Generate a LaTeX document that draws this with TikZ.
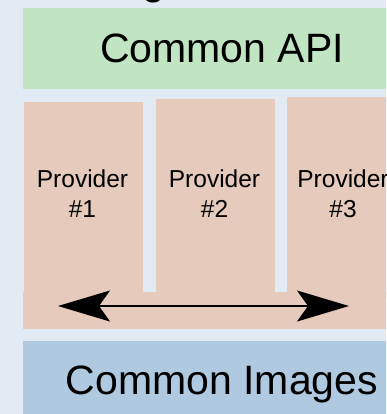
\documentclass[tikz,border=0pt]{standalone}
\usepackage{fontspec}
\setmainfont{Liberation Sans}
\usetikzlibrary{arrows.meta}

\definecolor{bgc}{RGB}{226,234,243}
\definecolor{apigreen}{RGB}{193,229,194}
\definecolor{provpink}{RGB}{230,202,188}
\definecolor{imgblue}{RGB}{175,201,224}

\tikzset{
  layer/.style={inner sep=0pt, outer sep=0pt, anchor=north west},
  provbox/.style={layer, fill=provpink, minimum width=119pt, minimum height=196pt},
  bigtext/.style={font=\fontsize{41}{41}\selectfont, inner sep=0pt},
  provtext/.style={font=\fontsize{24.5}{30}\selectfont, align=center, inner sep=0pt},
  bothway/.style={line width=2pt,
    {Stealth[length=52pt,width=31pt,inset=11pt]}-{Stealth[length=52pt,width=31pt,inset=11pt]}}
}

\begin{document}
\begin{tikzpicture}[x=1pt,y=-1pt]
\useasboundingbox (0,0) rectangle (386,414);
\clip (0,0) rectangle (386,414);
\fill[bgc] (0,0) rectangle (386,414);

% tail of the heading above the stack
\node[bigtext, anchor=base] (head) at (154,-5.5) {g};

% API layer
\node[layer, fill=apigreen, minimum width=398pt, minimum height=81pt,
      bigtext] (api) at (23,8) {Common API};

% providers sitting on a shared base strip
\node[layer, fill=provpink, minimum width=398pt, minimum height=37pt] (base) at (23,292) {};
\node[provbox, minimum height=192pt] (p1) at (24,102) {};
\node[provbox, minimum height=195pt] (p2) at (156,99) {};
\node[provbox, minimum width=130pt, minimum height=200pt] (p3) at (287,97) {};

% labels: anchor=base is the baseline of the second line
\node[provtext, anchor=base] (t1) at (82.5,217) {Provider\\\#1};
\node[provtext, anchor=base] (t2) at (214.5,217) {Provider\\\#2};
\node[provtext, anchor=base] (t3) at (343,217) {Provider\\\#3};

\coordinate (aL) at (58,306);
\coordinate (aR) at (349,306);
\draw[bothway] (aL) -- (aR);

% image layer
\node[layer, fill=imgblue, minimum width=398pt, minimum height=80pt] (img) at (23,341) {};
\node[bigtext, anchor=base] (imgtext) at (222,394) {Common Images};
\end{tikzpicture}
\end{document}
